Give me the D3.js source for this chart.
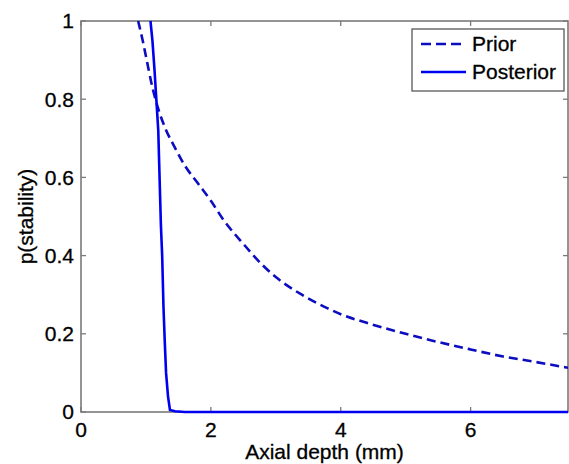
<!DOCTYPE html>
<html>
<head>
<meta charset="utf-8">
<script src="https://cdn.jsdelivr.net/npm/d3@7"></script>
<style>
  html, body { margin: 0; padding: 0; background: #fff; }
  svg { display: block; }
  text { font-family: Arial, "Liberation Sans", sans-serif; fill: #000; }
</style>
</head>
<body>
<svg id="chart" width="569" height="464"></svg>
<script>
// ---- data ----
const priorX = [0.88, 0.95, 1.0, 1.1, 1.2, 1.3, 1.45, 1.6, 1.8, 2.0, 2.2, 2.5, 2.8, 3.0, 3.4, 3.8, 4.0, 4.4, 5.0, 5.4, 6.0, 6.5, 7.0, 7.5];
const priorY = [1.0, 0.95, 0.91, 0.83, 0.77, 0.725, 0.675, 0.63, 0.585, 0.54, 0.49, 0.43, 0.375, 0.345, 0.30, 0.265, 0.25, 0.228, 0.20, 0.183, 0.16, 0.142, 0.128, 0.113];
const postX = [1.07, 1.10, 1.13, 1.16, 1.19, 1.21, 1.23, 1.25, 1.27, 1.29, 1.31, 1.34, 1.37, 1.45, 1.6, 7.5];
const postY = [1.0, 0.95, 0.88, 0.80, 0.72, 0.60, 0.48, 0.40, 0.27, 0.18, 0.10, 0.04, 0.005, 0.002, 0, 0];
const xTicks = [0, 2, 4, 6];
const yTicks = [0, 0.2, 0.4, 0.6, 0.8, 1];
const seriesNames = ["Prior", "Posterior"];
const xLabel = "Axial depth (mm)";
const yLabel = "p(stability)";

// ---- layout ----
const svg = d3.select("#chart");
const L = 81, R = 568, T = 21, B = 412;
const x = d3.scaleLinear().domain([0, 7.5]).range([L, R]);
const y = d3.scaleLinear().domain([0, 1]).range([B, T]);
const axisColor = "#7a7a7a";

svg.append("defs").append("clipPath").attr("id", "clip")
  .append("rect").attr("x", L).attr("y", T - 2).attr("width", R - L).attr("height", B - T + 4);

// ticks (inward, all four sides)
const tk = 5;
const g = svg.append("g");
xTicks.forEach(v => {
  g.append("line").attr("x1", x(v)).attr("x2", x(v)).attr("y1", B).attr("y2", B - tk).attr("stroke", axisColor).attr("stroke-width", 1.3);
  g.append("line").attr("x1", x(v)).attr("x2", x(v)).attr("y1", T).attr("y2", T + tk).attr("stroke", axisColor).attr("stroke-width", 1.3);
  g.append("text").attr("x", x(v)).attr("y", 437).attr("text-anchor", "middle").attr("font-size", 21)
    .attr("stroke", "#000").attr("stroke-width", 0.3).text(d3.format("d")(v));
});
yTicks.forEach(v => {
  g.append("line").attr("x1", L).attr("x2", L + tk).attr("y1", y(v)).attr("y2", y(v)).attr("stroke", axisColor).attr("stroke-width", 1.3);
  g.append("line").attr("x1", R).attr("x2", R - tk).attr("y1", y(v)).attr("y2", y(v)).attr("stroke", axisColor).attr("stroke-width", 1.3);
  g.append("text").attr("x", 74).attr("y", y(v)).attr("dy", "0.35em").attr("text-anchor", "end").attr("font-size", 21)
    .attr("stroke", "#000").attr("stroke-width", 0.3)
    .text(v === 0 || v === 1 ? d3.format("d")(v) : d3.format(".1f")(v));
});

// box
svg.append("rect").attr("x", L).attr("y", T).attr("width", R - L).attr("height", B - T)
  .attr("fill", "none").attr("stroke", axisColor).attr("stroke-width", 1.6);

// curves
const priorLine = d3.line().curve(d3.curveMonotoneX).x(d => x(d[0])).y(d => y(d[1]));
const line = d3.line().x(d => x(d[0])).y(d => y(d[1]));
const prior = priorX.map((v, i) => [v, priorY[i]]);
const post = postX.map((v, i) => [v, postY[i]]);
const cg = svg.append("g").attr("clip-path", "url(#clip)");
cg.append("path").datum(prior).attr("d", priorLine).attr("fill", "none")
  .attr("stroke", "#0c0cc0").attr("stroke-width", 2.6).attr("stroke-dasharray", "9,5");
cg.append("path").datum(post).attr("d", line).attr("fill", "none")
  .attr("stroke", "#0000f0").attr("stroke-width", 2.6);

// axis titles
svg.append("text").attr("x", (L + R) / 2).attr("y", 459).attr("text-anchor", "middle").attr("font-size", 21)
  .attr("stroke", "#000").attr("stroke-width", 0.3).text(xLabel);
svg.append("text").attr("transform", `translate(33,${(T + B) / 2}) rotate(-90)`).attr("text-anchor", "middle").attr("font-size", 21)
  .attr("stroke", "#000").attr("stroke-width", 0.3).text(yLabel);

// legend
const lg = svg.append("g");
lg.append("rect").attr("x", 412).attr("y", 29).attr("width", 152).attr("height", 62)
  .attr("fill", "#fff").attr("stroke", "#4a4a4a").attr("stroke-width", 1.2);
const ly = [44, 72];
lg.append("line").attr("x1", 421).attr("x2", 466).attr("y1", ly[0]).attr("y2", ly[0])
  .attr("stroke", "#0c0cc0").attr("stroke-width", 2.6).attr("stroke-dasharray", "10,5");
lg.append("line").attr("x1", 421).attr("x2", 466).attr("y1", ly[1]).attr("y2", ly[1])
  .attr("stroke", "#0000f0").attr("stroke-width", 2.6);
seriesNames.forEach((n, i) => {
  lg.append("text").attr("x", 472).attr("y", ly[i]).attr("dy", "0.35em").attr("font-size", 21)
    .attr("stroke", "#000").attr("stroke-width", 0.3).text(n);
});
</script>
</body>
</html>
